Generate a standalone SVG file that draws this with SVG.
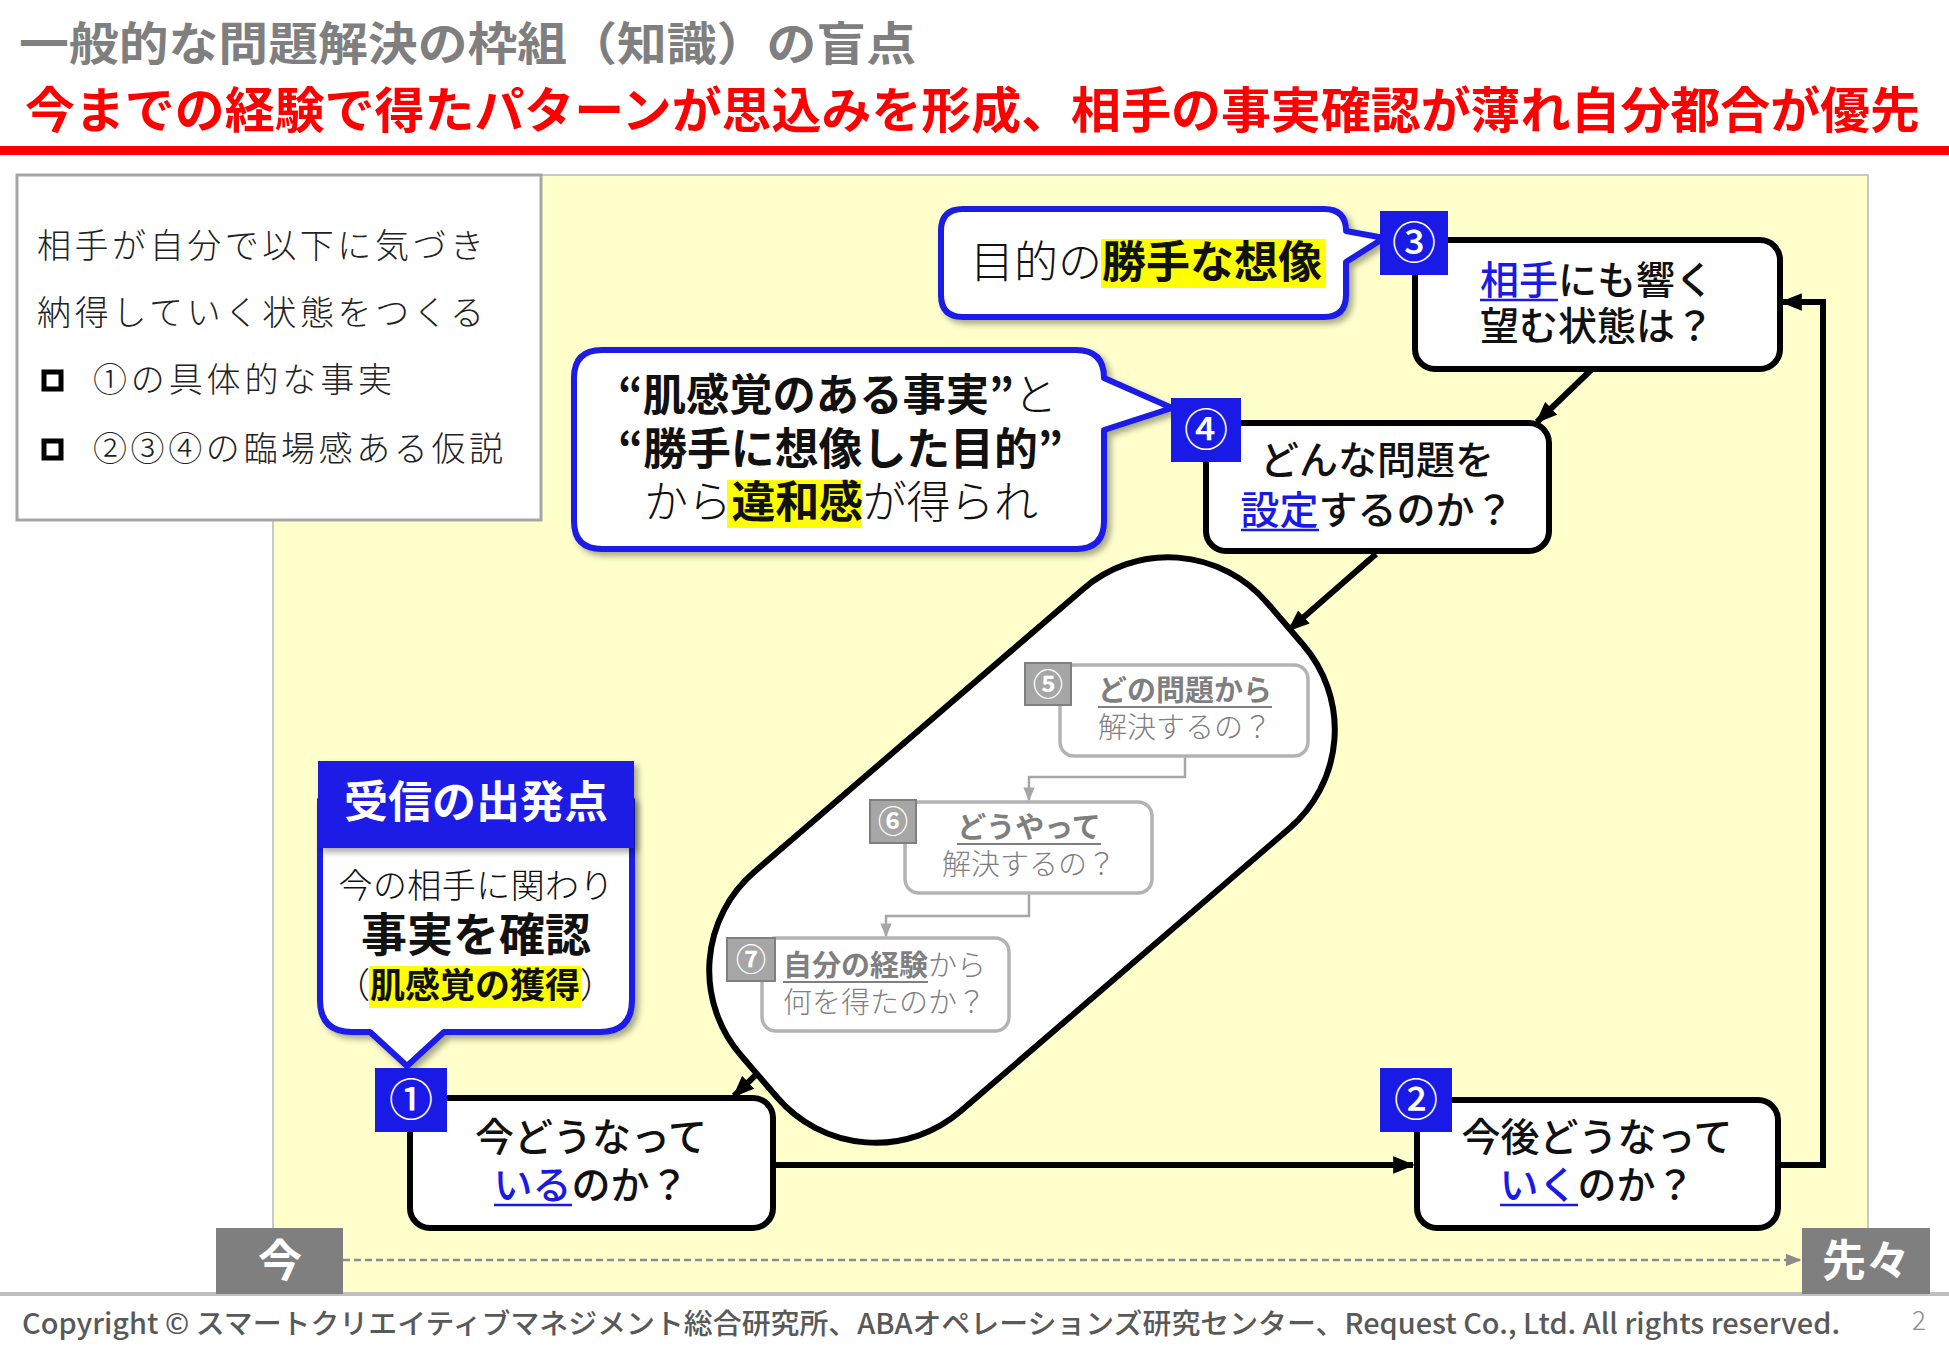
<svg xmlns="http://www.w3.org/2000/svg" width="1949" height="1350" viewBox="0 0 1949 1350">
<defs>
<style>
text{font-family:'Noto Sans CJK JP','Noto Sans',sans-serif;}
.thin{font-weight:300;}
.med{font-weight:500;}
.b{font-weight:700;}
.node{fill:#fff;stroke:#000;stroke-width:6;}
.badge{fill:#1a1ae6;}
.bnum{fill:#fff;font-size:44px;font-weight:500;text-anchor:middle;}
.gbadge{fill:#a6a6a6;stroke:#7f7f7f;stroke-width:2;}
.gnum{fill:#fff;font-size:30px;font-weight:700;text-anchor:middle;}
.gbox{fill:#fff;stroke:#b3b3b3;stroke-width:3.5;}
.gtxt{fill:#7f7f7f;font-size:29px;}
.ntxt{fill:#111;font-size:39px;font-weight:500;text-anchor:middle;}
.blue{fill:#1a1ae6;}
.ul{stroke:#1a1ae6;stroke-width:2.5;}
.gul{stroke:#7f7f7f;stroke-width:2;}
.callout{fill:#fff;stroke:#1a1ae6;stroke-width:6;stroke-linejoin:round;}
.hl{fill:#ffff00;}
.conn{fill:none;stroke:#000;stroke-width:6;}
.gconn{fill:none;stroke:#a6a6a6;stroke-width:2.5;}
</style>
<marker id="ah" viewBox="0 0 10 8" refX="9" refY="4" markerWidth="22" markerHeight="18" markerUnits="userSpaceOnUse" orient="auto"><path d="M0,0 L10,4 L0,8 z" fill="#000"/></marker>
<marker id="gah" viewBox="0 0 10 8" refX="9" refY="4" markerWidth="14" markerHeight="12" markerUnits="userSpaceOnUse" orient="auto"><path d="M0,0 L10,4 L0,8 z" fill="#a6a6a6"/></marker>
<marker id="tah" viewBox="0 0 10 8" refX="9" refY="4" markerWidth="16" markerHeight="14" markerUnits="userSpaceOnUse" orient="auto"><path d="M0,0 L10,4 L0,8 z" fill="#8c8c8c"/></marker>
<filter id="sh" x="-10%" y="-10%" width="130%" height="130%"><feDropShadow dx="4" dy="4" stdDeviation="3" flood-color="#000" flood-opacity="0.35"/></filter>
</defs>
<rect x="0" y="0" width="1949" height="1350" fill="#fff"/>

<!-- titles -->
<text x="19" y="60" font-size="46" class="b" fill="#7f7f7f" textLength="897" lengthAdjust="spacingAndGlyphs">一般的な問題解決の枠組（知識）の盲点</text>
<text x="25" y="128" font-size="49" class="b" fill="#ff0000" textLength="1895" lengthAdjust="spacingAndGlyphs">今までの経験で得たパターンが思込みを形成、相手の事実確認が薄れ自分都合が優先</text>
<rect x="0" y="146" width="1949" height="9" fill="#ff0000"/>

<!-- panel -->
<rect x="273" y="175" width="1595" height="1118" fill="#ffffcc" stroke="#c8c8c8" stroke-width="2"/>
<line x1="0" y1="1294" x2="1949" y2="1294" stroke="#c0c0c0" stroke-width="4"/>

<!-- left info box -->
<g id="info">
<rect x="17" y="175" width="524" height="345" fill="#fff" stroke="#a6a6a6" stroke-width="3"/>
<text x="37" y="258" font-size="34" class="thin" fill="#222" textLength="447" lengthAdjust="spacing">相手が自分で以下に気づき</text>
<text x="37" y="325" font-size="34" class="thin" fill="#222" textLength="447" lengthAdjust="spacing">納得していく状態をつくる</text>
<rect x="44" y="372" width="17" height="17" fill="none" stroke="#000" stroke-width="5"/>
<text x="93" y="392" font-size="34" class="thin" fill="#222" textLength="299" lengthAdjust="spacing">①の具体的な事実</text>
<rect x="44" y="441" width="17" height="17" fill="none" stroke="#000" stroke-width="5"/>
<text x="93" y="461" font-size="34" class="thin" fill="#222" textLength="410" lengthAdjust="spacing">②③④の臨場感ある仮説</text>
</g>

<!-- connectors -->
<g id="connectors">
<path class="conn" d="M773,1165 H1413" marker-end="url(#ah)"/>
<path class="conn" d="M1778,1165 H1823 V302 H1782" marker-end="url(#ah)"/>
<path class="conn" d="M1591,370 L1537,422" marker-end="url(#ah)"/>
<path class="conn" d="M1376,554 L1289,630" marker-end="url(#ah)"/>
<path class="conn" d="M763,1068 L734,1096" marker-end="url(#ah)"/>
<path d="M343,1260 H1800" fill="none" stroke="#8c8c8c" stroke-width="2.5" stroke-dasharray="7,4" marker-end="url(#tah)"/>
</g>

<!-- pill group -->
<g id="pill">
<rect x="-347" y="-158" width="694" height="316" rx="130" ry="130" transform="translate(1022,850) rotate(-40.7)" fill="#fff" stroke="#000" stroke-width="6"/>
<path class="gconn" d="M1185,756 V777 H1029 V800" marker-end="url(#gah)"/>
<path class="gconn" d="M1029,893 V916 H886 V936" marker-end="url(#gah)"/>
</g>

<g id="n5">
<rect class="gbox" x="1060" y="665" width="248" height="91" rx="14"/>
<rect class="gbadge" x="1025" y="663" width="46" height="42"/>
<text class="gnum" x="1048" y="695">⑤</text>
<text class="gtxt b" x="1185" y="701" text-anchor="middle">どの問題から</text>
<line class="gul" x1="1098" y1="707" x2="1272" y2="707"/>
<text class="gtxt thin" x="1185" y="738" text-anchor="middle">解決するの？</text>
</g>
<g id="n6">
<rect class="gbox" x="905" y="802" width="247" height="91" rx="14"/>
<rect class="gbadge" x="870" y="800" width="46" height="43"/>
<text class="gnum" x="893" y="832">⑥</text>
<text class="gtxt b" x="1029" y="838" text-anchor="middle">どうやって</text>
<line class="gul" x1="957" y1="844" x2="1101" y2="844"/>
<text class="gtxt thin" x="1029" y="875" text-anchor="middle">解決するの？</text>
</g>
<g id="n7">
<rect class="gbox" x="762" y="938" width="247" height="93" rx="14"/>
<rect class="gbadge" x="727" y="938" width="48" height="43"/>
<text class="gnum" x="751" y="970">⑦</text>
<text class="gtxt" x="783" y="976"><tspan class="b">自分の経験</tspan><tspan class="thin">から</tspan></text>
<line class="gul" x1="783" y1="982" x2="928" y2="982"/>
<text class="gtxt thin" x="783" y="1013">何を得たのか？</text>
</g>

<!-- callout: 目的の勝手な想像 -->
<g id="callout-purpose" filter="url(#sh)">
<path class="callout" d="M963,209 H1324 Q1346,209 1346,231 L1384,238 L1346,262 V295 Q1346,317 1324,317 H963 Q941,317 941,295 V231 Q941,209 963,209 Z"/>
</g>
<g id="callout-purpose-text">
<rect class="hl" x="1101" y="239" width="225" height="49"/>
<text x="970" y="278" font-size="44" fill="#111"><tspan class="thin">目的の</tspan><tspan class="b">勝手な想像</tspan></text>
</g>

<!-- callout: 違和感 -->
<g id="callout-gap" filter="url(#sh)">
<path class="callout" d="M602,350 H1076 Q1104,350 1104,378 L1172,408 L1104,430 V521 Q1104,549 1076,549 H602 Q574,549 574,521 V378 Q574,350 602,350 Z"/>
</g>
<g id="callout-gap-text">
<rect class="hl" x="727" y="480" width="134" height="48"/>
<text x="618" y="411" font-size="44" fill="#111" textLength="439" lengthAdjust="spacingAndGlyphs"><tspan class="b">“肌感覚のある事実”</tspan><tspan class="thin">と</tspan></text>
<text x="618" y="465" font-size="44" fill="#111" class="b" textLength="445" lengthAdjust="spacingAndGlyphs">“勝手に想像した目的”</text>
<text x="644" y="518" font-size="44" fill="#111" textLength="394" lengthAdjust="spacing"><tspan class="thin">から</tspan><tspan class="b">違和感</tspan><tspan class="thin">が得られ</tspan></text>
</g>

<!-- callout: 受信の出発点 -->
<g id="callout-start">
<path filter="url(#sh)" class="callout" d="M320,800 V1000 Q320,1032 352,1032 H370 L407,1066 L444,1032 H600 Q632,1032 632,1000 V800 Z"/>
<rect x="318" y="761" width="316" height="87" fill="#1a1ae6" filter="url(#sh)"/>
<text x="476" y="818" font-size="44" class="b" fill="#fff" text-anchor="middle">受信の出発点</text>
<text x="476" y="898" font-size="34" class="thin" fill="#111" text-anchor="middle" textLength="275" lengthAdjust="spacing">今の相手に関わり</text>
<text x="476" y="951" font-size="46" class="b" fill="#111" text-anchor="middle">事実を確認</text>
<rect class="hl" x="369" y="966" width="212" height="42"/>
<text x="475" y="998" font-size="35" fill="#111" text-anchor="middle"><tspan class="thin">（</tspan><tspan class="b">肌感覚の獲得</tspan><tspan class="thin">）</tspan></text>
</g>

<!-- node 3 -->
<g id="n3">
<rect class="node" x="1415" y="240" width="365" height="129" rx="20"/>
<rect class="badge" x="1380" y="211" width="68" height="64"/>
<text class="bnum" x="1414" y="259">③</text>
<text class="ntxt" x="1597" y="294"><tspan class="blue">相手</tspan>にも響く</text>
<line class="ul" x1="1480" y1="300" x2="1558" y2="300"/>
<text class="ntxt" x="1597" y="340">望む状態は？</text>
</g>
<!-- node 4 -->
<g id="n4">
<rect class="node" x="1206" y="423" width="343" height="128" rx="20"/>
<rect class="badge" x="1171" y="398" width="70" height="64"/>
<text class="bnum" x="1206" y="446">④</text>
<text class="ntxt" x="1377" y="474">どんな問題を</text>
<text class="ntxt" x="1377" y="524"><tspan class="blue">設定</tspan>するのか？</text>
<line class="ul" x1="1241" y1="530" x2="1319" y2="530"/>
</g>
<!-- node 1 -->
<g id="n1">
<rect class="node" x="410" y="1098" width="363" height="130" rx="20"/>
<rect class="badge" x="375" y="1068" width="72" height="64"/>
<text class="bnum" x="411" y="1116">①</text>
<text class="ntxt" x="591" y="1151">今どうなって</text>
<text class="ntxt" x="591" y="1199"><tspan class="blue">いる</tspan>のか？</text>
<line class="ul" x1="494" y1="1205" x2="572" y2="1205"/>
</g>
<!-- node 2 -->
<g id="n2">
<rect class="node" x="1417" y="1100" width="361" height="128" rx="20"/>
<rect class="badge" x="1380" y="1068" width="72" height="64"/>
<text class="bnum" x="1416" y="1116">②</text>
<text class="ntxt" x="1597" y="1151">今後どうなって</text>
<text class="ntxt" x="1597" y="1199"><tspan class="blue">いく</tspan>のか？</text>
<line class="ul" x1="1500" y1="1205" x2="1578" y2="1205"/>
</g>

<!-- timeline -->
<g id="t-now">
<rect x="216" y="1228" width="127" height="66" fill="#7f7f7f"/>
<text x="280" y="1277" font-size="44" class="b" fill="#fff" text-anchor="middle">今</text>
</g>
<g id="t-future">
<rect x="1802" y="1228" width="128" height="66" fill="#7f7f7f"/>
<text x="1866" y="1277" font-size="44" class="b" fill="#fff" text-anchor="middle">先々</text>
</g>

<!-- footer -->
<text x="22" y="1334" font-size="28" class="med" fill="#595959" textLength="1818" lengthAdjust="spacingAndGlyphs">Copyright ©  スマートクリエイティブマネジメント総合研究所、ABAオペレーションズ研究センター、Request Co., Ltd. All rights reserved.</text>
<text x="1912" y="1330" font-size="26" class="thin" fill="#8c8c8c">2</text>
</svg>
